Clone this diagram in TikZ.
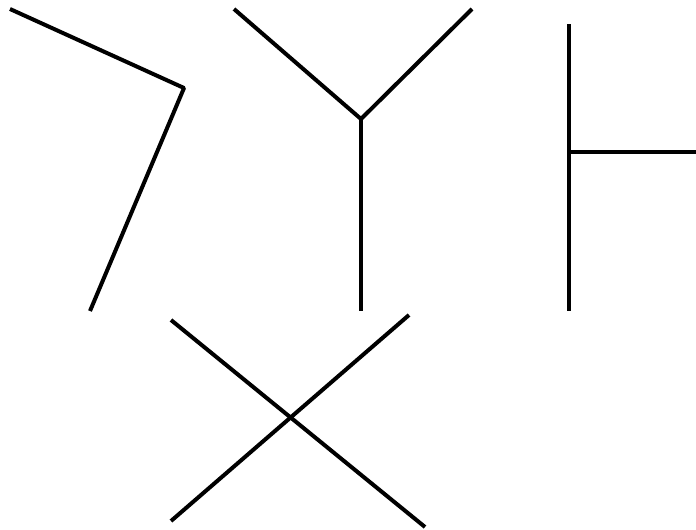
\documentclass[tikz,border=0pt]{standalone}
\begin{document}
\begin{tikzpicture}[x=1pt,y=-1pt,stroke/.style={line width=4pt,line cap=butt,line join=round,black}]
\useasboundingbox (0,0) rectangle (696,530);
% bent line
\coordinate (a1) at (10,9);
\coordinate (a2) at (184,88);
\coordinate (a3) at (90,311);
\draw[stroke] (a1) -- (a2) -- (a3);
% Y shape
\coordinate (yc) at (361,119);
\coordinate (yl) at (234,9);
\coordinate (yr) at (472,9);
\coordinate (yb) at (361,311);
\draw[stroke] (yl) -- (yc);
\draw[stroke] (yr) -- (yc);
\draw[stroke] (yc) -- (yb);
% T shape
\coordinate (tt) at (569,24);
\coordinate (tb) at (569,311);
\coordinate (tm) at (569,152);
\coordinate (tr) at (696,152);
\draw[stroke] (tt) -- (tb);
\draw[stroke] (tm) -- (tr);
% X shape
\coordinate (x1) at (171,320);
\coordinate (x2) at (425,527);
\coordinate (x3) at (409,315);
\coordinate (x4) at (171,521);
\draw[stroke] (x1) -- (x2);
\draw[stroke] (x3) -- (x4);
\end{tikzpicture}
\end{document}
